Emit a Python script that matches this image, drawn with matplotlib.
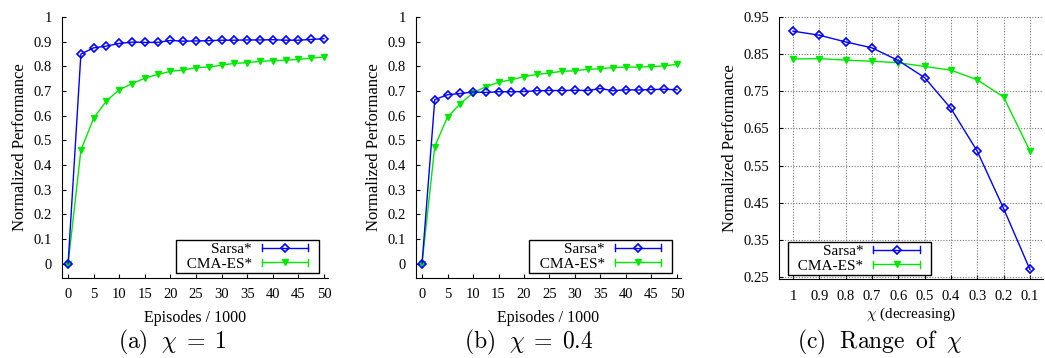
import matplotlib
matplotlib.use('Agg')
import numpy as np
from matplotlib import pyplot as plt
from matplotlib.lines import Line2D
from matplotlib.legend_handler import HandlerLine2D

plt.rcParams['mathtext.fontset'] = 'cm'

# data
episodes = [0, 2.5, 5, 7.5, 10, 12.5, 15, 17.5, 20, 22.5, 25,
            27.5, 30, 32.5, 35, 37.5, 40, 42.5, 45, 47.5, 50]
sarsa_a = [0, 0.850, 0.875, 0.882, 0.893, 0.898, 0.897, 0.897, 0.905, 0.902, 0.903,
           0.904, 0.906, 0.906, 0.907, 0.907, 0.908, 0.906, 0.906, 0.909, 0.912]
cma_a = [0, 0.460, 0.590, 0.660, 0.705, 0.730, 0.752, 0.767, 0.780, 0.785, 0.795,
         0.797, 0.805, 0.812, 0.815, 0.820, 0.823, 0.825, 0.828, 0.833, 0.838]
sarsa_b = [0, 0.665, 0.685, 0.690, 0.696, 0.694, 0.697, 0.697, 0.698, 0.701, 0.702,
           0.702, 0.703, 0.702, 0.710, 0.701, 0.705, 0.704, 0.706, 0.707, 0.705]
cma_b = [0, 0.475, 0.595, 0.648, 0.693, 0.717, 0.735, 0.746, 0.758, 0.767, 0.773,
         0.780, 0.782, 0.788, 0.790, 0.795, 0.797, 0.797, 0.799, 0.802, 0.808]

chi_labels = ['1', '0.9', '0.8', '0.7', '0.6', '0.5', '0.4', '0.3', '0.2', '0.1']
sarsa_c = [0.912, 0.901, 0.883, 0.867, 0.833, 0.787, 0.704, 0.589, 0.435, 0.271]
cma_c = [0.837, 0.838, 0.834, 0.831, 0.827, 0.817, 0.807, 0.781, 0.735, 0.590]

captions = [r'$\mathrm{(a)}\ \ \chi\;=\;1$', r'$\mathrm{(b)}\ \ \chi\;=\;0.4$',
            r'$\mathrm{(c)}\ \ \mathrm{Range}\;\;\mathrm{of}\;\;\chi$']

BLUE = '#0000ff'
GREEN = '#00e800'
serif = 'Liberation Serif'


class CapHandler(HandlerLine2D):
    # gnuplot style key: line with end caps, marker in the middle, some room on the right
    def create_artists(self, legend, orig, xdescent, ydescent, width, height, fontsize, trans):
        arts = super().create_artists(legend, orig, xdescent, ydescent, width, height, fontsize, trans)
        y = (height - ydescent) / 2.
        x0, x1 = -xdescent, width - xdescent - 0.55 * fontsize
        arts[0].set_data([x0, (x0 + x1) / 2., x1], [y, y, y])
        arts[0].set_markevery([1])
        for xc in (x0, x1):
            c = Line2D([xc, xc], [y - 2.5, y + 2.5], color=orig.get_color(), lw=1)
            c.set_transform(trans)
            arts.append(c)
        return arts


def style_axes(ax):
    ax.spines['top'].set_visible(False)
    ax.spines['right'].set_visible(False)
    ax.tick_params(direction='in', length=3, pad=7, labelsize=10.5)
    for t in ax.get_xticklabels() + ax.get_yticklabels():
        t.set_fontfamily(serif)


def draw(ax, x, s, c):
    ax.plot(x, s, '-', color=BLUE, lw=1, marker='D', ms=4.5, mfc='none', mec=BLUE,
            mew=1.2, label='Sarsa*', zorder=3)
    ax.plot(x, c, '-', color=GREEN, lw=1, marker='v', ms=5, mfc=GREEN, mec=GREEN,
            label='  CMA-ES*', zorder=2)


def add_legend(ax, loc, anchor):
    leg = ax.legend(loc=loc, bbox_to_anchor=anchor, markerfirst=False, fancybox=False,
                    edgecolor='black', framealpha=1, handlelength=3.6, handletextpad=0.65,
                    labelspacing=0.05, borderpad=0.15, borderaxespad=0,
                    prop={'family': serif, 'size': 11},
                    handler_map={Line2D: CapHandler()})
    leg.get_frame().set_linewidth(1)
    return leg


fig = plt.figure(figsize=(10.45, 3.58), dpi=100)
axa = fig.add_axes([0.0593, 0.2235, 0.2546, 0.729])
axb = fig.add_axes([0.398, 0.2235, 0.2537, 0.729])
axc = fig.add_axes([0.7455, 0.2207, 0.2526, 0.7318])

for ax, s, c in [(axa, sarsa_a, cma_a), (axb, sarsa_b, cma_b)]:
    draw(ax, episodes, s, c)
    ax.set_xlim(-1.2, 50.8)
    ax.set_ylim(-0.058, 1.0)
    ax.set_xticks(np.arange(0, 51, 5))
    ax.set_yticks(np.arange(0, 1.01, 0.1))
    ax.set_yticklabels(['0'] + ['%.1f' % v for v in np.arange(0.1, 0.95, 0.1)] + ['1'])
    style_axes(ax)
    ax.set_xlabel('Episodes / 1000', fontfamily=serif, fontsize=11.5, labelpad=7)
    ax.set_ylabel('Normalized Performance', fontfamily=serif, fontsize=12, labelpad=4)
    add_legend(ax, 'lower right', (0.966, 0.019))

xc = np.arange(len(chi_labels))
draw(axc, xc, sarsa_c, cma_c)
axc.set_xlim(-0.53, 9.5)
axc.set_ylim(0.245, 0.95)
axc.set_xticks(xc)
axc.set_xticklabels(chi_labels)
axc.set_yticks(np.arange(0.25, 0.951, 0.1))
axc.set_yticklabels(['%.2f' % v for v in np.arange(0.25, 0.951, 0.1)])
axc.grid(True, color='#777777', ls=(0, (1, 1.5)), lw=0.8)
style_axes(axc)
axc.tick_params(axis='x', pad=8)
axc.set_xlabel(r'$\chi$ (decreasing)', fontfamily=serif, fontsize=11, labelpad=2)
axc.set_ylabel('Normalized Performance', fontfamily=serif, fontsize=12, labelpad=4)
add_legend(axc, 'lower left', (0.034, 0.015))

for xpos, cap in zip([172, 529, 880], captions):
    fig.text(xpos / 1045., 0.044, cap, ha='center', va='center', fontsize=17)

plt.savefig('out.png', dpi=100)
